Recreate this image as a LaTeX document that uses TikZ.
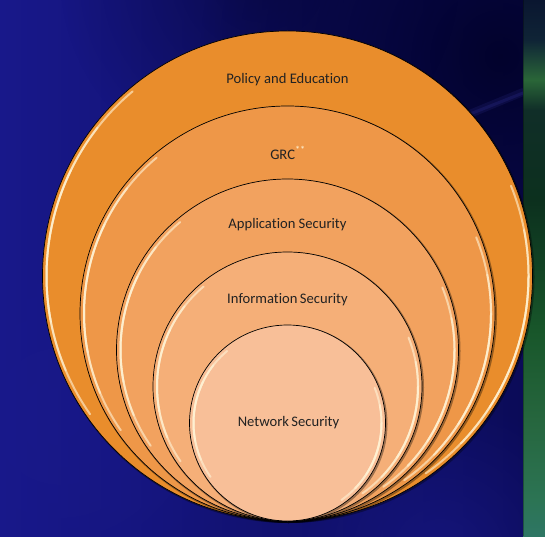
\documentclass[tikz,border=0pt]{standalone}
\usepackage{fontspec}
\setmainfont[Ligatures=NoCommon]{Carlito}
\usetikzlibrary{fadings}
\definecolor{bgleft}{HTML}{18188A}
\definecolor{bgright}{HTML}{0B0B58}
\definecolor{bgdark}{HTML}{02022A}
\definecolor{bgblue}{HTML}{1A1A8C}
\definecolor{sA}{HTML}{0A1630}
\definecolor{sB}{HTML}{0F2436}
\definecolor{sC}{HTML}{2A6638}
\definecolor{sD}{HTML}{102E28}
\definecolor{sE}{HTML}{0C301E}
\definecolor{sF}{HTML}{18562A}
\definecolor{sG}{HTML}{26663E}
\definecolor{sH}{HTML}{2C7454}
\definecolor{sI}{HTML}{2E7664}
\definecolor{cOne}{HTML}{E98D2C}
\definecolor{cTwo}{HTML}{EE9748}
\definecolor{cThree}{HTML}{F2A25F}
\definecolor{cFour}{HTML}{F5AF78}
\definecolor{cFive}{HTML}{F8BF98}
\definecolor{hlcol}{HTML}{FFF4D6}
\definecolor{streak}{HTML}{3A3AA8}
\definecolor{txt}{HTML}{222222}
\pgfdeclareverticalshading{stripshade}{100bp}{color(0bp)=(sI); color(25bp)=(sI); color(28.36bp)=(sH); color(35.82bp)=(sG); color(44.22bp)=(sF); color(56.34bp)=(sE); color(64.74bp)=(sD); color(67.54bp)=(sC); color(71.27bp)=(sB); color(75bp)=(sA); color(100bp)=(sA)}
\tikzfading[name=softcirc, inner color=transparent!0, outer color=transparent!100]
\tikzset{
  ring/.style={circle, draw=black, line width=0.7pt, inner sep=0pt, minimum size=#1},
  shadowring/.style={circle, fill=black, fill opacity=0.35, inner sep=0pt, minimum size=#1},
  hl/.style={draw=hlcol, line width=2pt, draw opacity=0.6, line cap=round},
  lbl/.style={text=txt, font=\fontsize{14.6}{17}\selectfont, inner sep=0pt}
}
\begin{document}
\begin{tikzpicture}[x=1pt,y=1pt]
\useasboundingbox (0,0) rectangle (545,536);
% background
\shade[left color=bgleft, right color=bgright] (0,0) rectangle (523,536);
\fill[bgdark, path fading=softcirc, fill opacity=0.95] (500,480) circle (300);
\fill[bgdark, path fading=softcirc, fill opacity=0.5] (260,560) circle (200);
\fill[bgblue, path fading=softcirc, fill opacity=0.6] (440,-20) circle (160);
\fill[bgblue, path fading=softcirc, fill opacity=0.5] (60,120) circle (200);
% faint streak
\draw[line width=8pt, draw=streak, draw opacity=0.15, line cap=round] (455,416) -- (523,444);
\draw[line width=3pt, draw=streak, draw opacity=0.2, line cap=round] (460,418) -- (523,443);
% right strip
\shade[shading=stripshade] (523,0) rectangle (545,536);
\draw[line width=1.2pt, draw=black, draw opacity=0.3] (523.6,0) -- (523.6,536);
% circles
\foreach \n/\r/\c in {1/245/cOne, 2/207.5/cTwo, 3/171/cThree, 4/134.5/cFour, 5/98/cFive}{
  \node[shadowring=2*\r+2pt] (s\n) at (288.5,14+\r) {};
  \node[ring=2*\r, fill=\c] (c\n) at (287.5,15+\r) {};
  \pgfmathsetmacro{\rr}{\r-4}
  \foreach \a/\b in {130/215, 142/203, 154/191}{
    \draw[hl] (c\n.center) ++(\a:\rr) arc[start angle=\a, end angle=\b, radius=\rr];
  }
  \foreach \a/\b in {-55/22, -44/11, -33/0}{
    \draw[hl] (c\n.center) ++(\a:\rr) arc[start angle=\a, end angle=\b, radius=\rr];
  }
}
% labels
\node[lbl] (l1) at (287.5,456) {Policy and Education};
\node[lbl] (l2) at (288,383) {GRC\textsuperscript{\color{hlcol}**}};
\node[lbl] (l3) at (287.5,311) {Application Security};
\node[lbl] (l4) at (287.5,236) {Information\,Security};
\node[lbl] (l5) at (288.5,113) {Network\,Security};
\end{tikzpicture}
\end{document}
